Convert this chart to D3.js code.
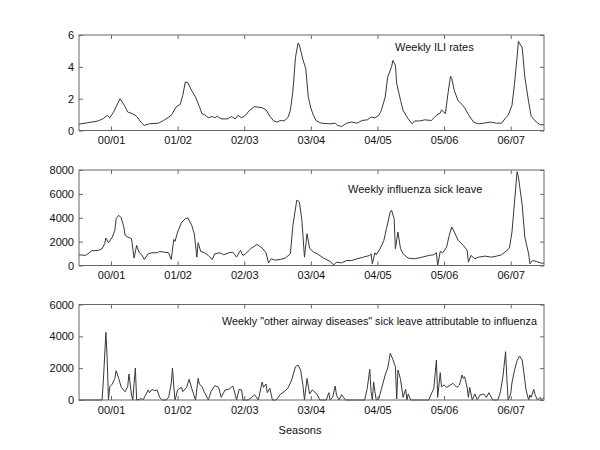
<!DOCTYPE html>
<html>
<head>
<meta charset="utf-8">
<script src="https://cdn.jsdelivr.net/npm/d3@7"></script>
<style>
  body { margin: 0; background: #fff; }
  svg { display: block; font-family: "Liberation Sans", Arial, sans-serif; }
  .tick text { font-size: 11px; fill: #111; }
  .tick line { stroke: #666; }
  .frame { fill: none; stroke: #666; stroke-width: 1; }
  .series { fill: none; stroke: #383838; stroke-width: 1; stroke-linejoin: round; }
  .note { font-size: 11px; fill: #111; }
</style>
</head>
<body>
<div id="chart"></div>
<script>
// seasons on the x axis (week index where each season label sits)
const seasons = ["00/01", "01/02", "02/03", "03/04", "04/05", "05/06", "06/07"];
const seasonWeeks = [25, 77, 129, 181, 233, 285, 337];
const lastWeek = 363;

// weekly ILI rates  [week, rate]
const iliRates = [
  [0,0.4],[7,0.49],[15,0.6],[19,0.75],[22,0.95],[24,0.8],[27,1.16],[32,2.0],[36,1.5],[38,1.16],
  [42,1.05],[45,0.89],[49,0.46],[51,0.32],[55,0.42],[62,0.46],[66,0.63],[68,0.73],[72,0.95],[76,1.5],
  [79,1.64],[81,2.2],[83,3.05],[85,3.0],[88,2.5],[91,2.1],[94,1.5],[96,1.05],[98,1.0],[101,0.8],
  [104,0.88],[106,0.8],[108,0.9],[111,0.73],[116,0.73],[119,0.88],[122,0.73],[124,0.95],[127,0.8],[130,0.95],
  [133,1.26],[137,1.5],[143,1.43],[146,1.3],[149,0.89],[152,0.6],[155,0.53],[157,0.63],[160,0.6],[163,0.8],
  [165,1.26],[167,2.5],[169,4.6],[171,5.5],[172,5.37],[175,4.4],[177,3.9],[179,2.1],[181,1.4],[183,0.95],
  [185,0.63],[189,0.46],[196,0.42],[200,0.46],[202,0.32],[205,0.25],[209,0.46],[213,0.53],[217,0.46],[221,0.63],
  [225,0.67],[228,0.84],[231,0.8],[234,0.95],[236,1.26],[239,2.1],[241,3.37],[244,4.0],[245,4.4],[247,4.1],
  [248,2.95],[251,1.9],[253,1.26],[257,0.73],[260,0.42],[262,0.6],[266,0.6],[270,0.67],[275,0.63],[279,0.95],
  [282,1.1],[283,1.3],[286,1.05],[288,2.3],[290,3.4],[291,3.26],[293,2.5],[296,1.85],[299,1.64],[301,1.43],
  [304,1.0],[308,0.53],[312,0.42],[316,0.46],[321,0.53],[326,0.46],[330,0.46],[333,0.8],[335,0.95],[338,1.58],
  [340,2.95],[342,4.63],[343,5.6],[346,5.2],[348,3.37],[351,1.8],[353,0.89],[357,0.53],[360,0.36],[363,0.36]
];

// weekly influenza sick leave  [week, count]
const fluSickLeave = [
  [0,900],[5,842],[7,983],[10,1235],[15,1263],[18,1403],[20,1824],[21,2301],[23,1908],[26,2385],
  [28,2946],[29,3929],[31,4210],[33,3985],[35,3227],[36,2526],[38,2385],[41,2245],[43,617],[45,1684],
  [47,1066],[49,898],[51,505],[54,982],[57,1066],[61,1066],[63,1178],[66,1122],[70,1066],[72,505],
  [74,2189],[75,2020],[77,2806],[80,3592],[83,3929],[85,3985],[88,3367],[90,2666],[92,701],[93,1908],
  [95,1178],[98,1066],[101,842],[104,505],[106,982],[110,1066],[113,898],[117,1066],[120,1122],[123,701],
  [126,1263],[128,842],[130,982],[134,1403],[139,1768],[143,1459],[146,1066],[148,224],[150,561],[153,449],
  [157,505],[161,617],[165,982],[167,3367],[170,5472],[172,5332],[174,3789],[176,701],[178,2666],[180,1459],
  [183,1122],[186,982],[191,617],[196,337],[199,56],[201,281],[205,224],[209,421],[213,421],[217,561],
  [222,701],[227,842],[228,982],[229,140],[231,1066],[232,898],[235,1403],[238,2105],[240,3087],[243,4490],
  [244,4630],[246,3929],[247,1403],[249,2806],[251,1403],[253,982],[257,617],[262,561],[268,701],[273,842],
  [277,898],[279,1066],[280,0],[282,1178],[284,1066],[287,1543],[289,2526],[291,3227],[293,2806],[296,2105],
  [300,1684],[303,1263],[304,281],[306,842],[309,561],[312,701],[317,786],[322,701],[326,786],[330,898],
  [334,1263],[336,1459],[338,2806],[340,5332],[342,7858],[343,7437],[346,5051],[348,2385],[351,982],[352,140],
  [354,421],[357,337],[361,196],[363,196]
];

// weekly "other airway diseases" sick leave attributable to influenza  [week, count]
const otherAirway = [
  [0,0],[18,0],[19,1190],[21,4250],[22,2600],[23,0],[24,829],[26,1000],[28,1360],[29,1842],
  [31,1360],[33,795],[36,523],[38,837],[39,1633],[41,314],[42,0],[43,1047],[44,2009],[45,0],
  [49,84],[50,0],[54,628],[55,460],[57,670],[59,586],[61,628],[63,167],[65,0],[68,0],
  [70,167],[72,1047],[73,2009],[74,837],[75,0],[77,628],[80,795],[81,523],[84,795],[86,1298],
  [88,733],[91,0],[93,1360],[94,1000],[96,837],[98,460],[101,0],[103,523],[106,900],[109,795],
  [111,167],[114,628],[117,670],[120,880],[121,628],[123,0],[125,670],[127,628],[128,0],[132,0],
  [135,167],[137,335],[140,0],[141,377],[143,1130],[144,795],[146,1005],[147,460],[149,733],[151,0],
  [154,0],[157,335],[161,586],[163,733],[166,1256],[169,2093],[171,2198],[173,1884],[175,795],[176,0],
  [178,1360],[180,377],[182,628],[183,586],[186,335],[188,0],[193,0],[195,460],[196,0],[198,167],
  [200,879],[201,314],[203,0],[205,335],[208,0],[223,0],[225,733],[227,1925],[228,523],[229,0],
  [230,1130],[231,523],[232,0],[234,63],[236,670],[239,1570],[241,2009],[243,2930],[245,2554],[247,2093],
  [248,63],[249,1884],[251,1298],[253,167],[255,670],[256,0],[257,377],[259,0],[273,0],[275,377],
  [277,733],[279,2512],[280,167],[282,1716],[283,837],[285,942],[287,795],[290,942],[292,1047],[294,879],
  [295,795],[297,942],[299,1570],[300,1360],[301,1465],[303,795],[304,167],[305,795],[307,0],[309,377],
  [311,0],[313,314],[316,377],[318,167],[320,460],[323,0],[327,0],[329,523],[331,1507],[333,3035],
  [334,1360],[335,0],[337,377],[338,1089],[340,1884],[342,2470],[344,2763],[346,2512],[347,1884],[349,628],
  [351,0],[352,314],[353,167],[355,670],[356,335],[358,0],[360,167],[361,0],[363,167]
];

// y axis ticks per panel
const iliTicks = [0, 2, 4, 6];
const fluTicks = [0, 2000, 4000, 6000, 8000];
const otherTicks = [0, 2000, 4000, 6000];

const titles = [
  "Weekly ILI rates",
  "Weekly influenza sick leave",
  "Weekly \"other airway diseases\" sick leave attributable to influenza"
];

const width = 600, height = 450;
const left = 79, right = 544;
const panelH = 95.5;

const svg = d3.select("#chart").append("svg")
  .attr("width", width)
  .attr("height", height);

const x = d3.scaleLinear().domain([0, lastWeek]).range([left, right]);

const panels = [
  { data: iliRates, ticks: iliTicks, top: 35, title: titles[0], tx: 395, ty: 51, fs: 11 },
  { data: fluSickLeave, ticks: fluTicks, top: 170, title: titles[1], tx: 348, ty: 193, fs: 11 },
  { data: otherAirway, ticks: otherTicks, top: 304.5, title: titles[2], tx: 222, ty: 325, fs: 10.8, len: 315 }
];

panels.forEach(function(p) {
  const bottom = p.top + panelH;
  const y = d3.scaleLinear()
    .domain([0, d3.max(p.ticks)])
    .range([bottom, p.top]);

  const g = svg.append("g");

  // line
  const line = d3.line()
    .x(d => x(d[0]))
    .y(d => y(d[1]));

  g.append("path")
    .datum(p.data)
    .attr("class", "series")
    .attr("d", line);

  // axes, ticks pointing inward like matlab
  g.append("g")
    .attr("transform", `translate(0,${bottom})`)
    .call(d3.axisBottom(x).tickValues(seasonWeeks)
      .tickFormat((d, i) => seasons[i]).tickSize(-4).tickSizeOuter(0).tickPadding(6))
    .call(a => a.select(".domain").remove());

  g.append("g")
    .attr("transform", `translate(0,${p.top})`)
    .call(d3.axisTop(x).tickValues(seasonWeeks)
      .tickFormat("").tickSize(-4).tickSizeOuter(0))
    .call(a => a.select(".domain").remove());

  g.append("g")
    .attr("transform", `translate(${left},0)`)
    .call(d3.axisLeft(y).tickValues(p.ticks)
      .tickFormat(d3.format("d")).tickSize(-4).tickSizeOuter(0).tickPadding(5))
    .call(a => a.select(".domain").remove());

  g.append("g")
    .attr("transform", `translate(${right},0)`)
    .call(d3.axisRight(y).tickValues(p.ticks)
      .tickFormat("").tickSize(-4).tickSizeOuter(0))
    .call(a => a.select(".domain").remove());

  g.selectAll(".tick text").attr("font-family", null).attr("font-size", null);

  g.append("rect")
    .attr("class", "frame")
    .attr("x", left)
    .attr("y", p.top)
    .attr("width", right - left)
    .attr("height", panelH);

  const t = g.append("text")
    .attr("class", "note")
    .attr("x", p.tx)
    .attr("y", p.ty)
    .style("font-size", p.fs + "px")
    .text(p.title);
  if (p.len) t.attr("textLength", p.len).attr("lengthAdjust", "spacingAndGlyphs");
});

svg.append("text")
  .attr("class", "note")
  .attr("x", 300)
  .attr("y", 434)
  .attr("text-anchor", "middle")
  .text("Seasons");
</script>
</body>
</html>
